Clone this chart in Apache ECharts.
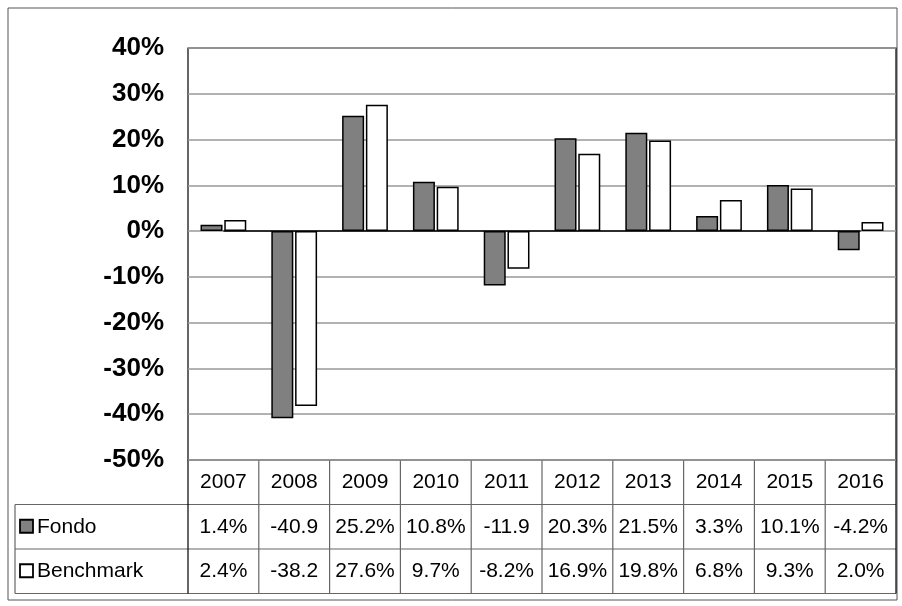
<!DOCTYPE html>
<html><head><meta charset="utf-8">
<script src="https://cdn.jsdelivr.net/npm/echarts@6/dist/echarts.min.js"></script>
<style>body{margin:0}#c{width:902px;height:606px}</style></head>
<body><div id="c"></div>
<script>
// dati
var years=['2007','2008','2009','2010','2011','2012','2013','2014','2015','2016'];
var fondo=[1.4,-40.9,25.2,10.8,-11.9,20.3,21.5,3.3,10.1,-4.2];
var bench=[2.4,-38.2,27.6,9.7,-8.2,16.9,19.8,6.8,9.3,2.0];
var fondoTxt=['1.4%','-40.9','25.2%','10.8%','-11.9','20.3%','21.5%','3.3%','10.1%','-4.2%'];
var benchTxt=['2.4%','-38.2','27.6%','9.7%','-8.2%','16.9%','19.8%','6.8%','9.3%','2.0%'];

var L=188,R=896,T=48,B=460,rowH=44.5,tL=15;
var cw=(R-L)/years.length;
var fnt='21px "Liberation Sans"';
var chart=echarts.init(document.getElementById('c'));
var g=[];
g.push({type:'rect',shape:{x:8,y:8,width:889,height:592},style:{fill:'none',stroke:'#555',lineWidth:1}});
// righe tabella
for(var r=1;r<=3;r++){
  var y=B+rowH*r;
  g.push({type:'line',shape:{x1:tL,y1:y,x2:R,y2:y},style:{stroke:'#666',lineWidth:1.2}});
}
g.push({type:'line',shape:{x1:tL,y1:B+rowH,x2:tL,y2:B+rowH*3},style:{stroke:'#666',lineWidth:1.2}});
g.push({type:'line',shape:{x1:L,y1:B,x2:L,y2:B+rowH*3},style:{stroke:'#000',lineWidth:1.2}});
for(var i=1;i<=years.length;i++){
  g.push({type:'line',shape:{x1:L+cw*i,y1:B,x2:L+cw*i,y2:B+rowH*3},style:{stroke:i==years.length?'#000':'#666',lineWidth:1.2}});
}
var rows=[['Fondo','#808080',fondoTxt],['Benchmark','#fff',benchTxt]];
rows.forEach(function(rw,k){
  var yc=B+rowH*(k+1.5);
  g.push({type:'rect',shape:{x:tL+5,y:yc-7,width:13,height:13},style:{fill:rw[1],stroke:'#000',lineWidth:1.8}});
  g.push({type:'text',x:tL+22,y:yc,style:{text:rw[0],font:fnt,fill:'#000',verticalAlign:'middle'}});
  rw[2].forEach(function(t,i){
    g.push({type:'text',x:L+cw*(i+0.5),y:yc,style:{text:t,font:fnt,fill:'#000',align:'center',verticalAlign:'middle'}});
  });
});
years.forEach(function(t,i){
  g.push({type:'text',x:L+cw*(i+0.5),y:B+rowH*0.5,style:{text:t,font:fnt,fill:'#000',align:'center',verticalAlign:'middle'}});
});
g.push({type:'rect',shape:{x:L,y:T,width:R-L,height:B-T},style:{fill:'none',stroke:'#000',lineWidth:1.2}});

chart.setOption({
  animation:false,
  grid:{left:L,right:902-R,top:T,bottom:606-B},
  xAxis:{type:'category',data:years,axisLine:{show:false},axisTick:{show:false},axisLabel:{show:false}},
  yAxis:{type:'value',min:-50,max:40,interval:10,
    axisLabel:{formatter:'{value}%',fontSize:26,fontWeight:'bold',color:'#000',fontFamily:'Liberation Sans',margin:24},
    splitLine:{lineStyle:{color:'#999',width:1.5}},axisLine:{show:false},axisTick:{show:false}},
  series:[
    {type:'bar',data:fondo,barWidth:22,barGap:'8%',itemStyle:{color:'#808080',borderColor:'#000',borderWidth:1.5}},
    {type:'bar',data:bench,barWidth:22,itemStyle:{color:'#fff',borderColor:'#000',borderWidth:1.5}},
    {type:'line',data:years.map(function(){return 0;}),symbol:'none',lineStyle:{color:'#000',width:1.5},silent:true,z:5}
  ],
  graphic:g
});
</script></body></html>
